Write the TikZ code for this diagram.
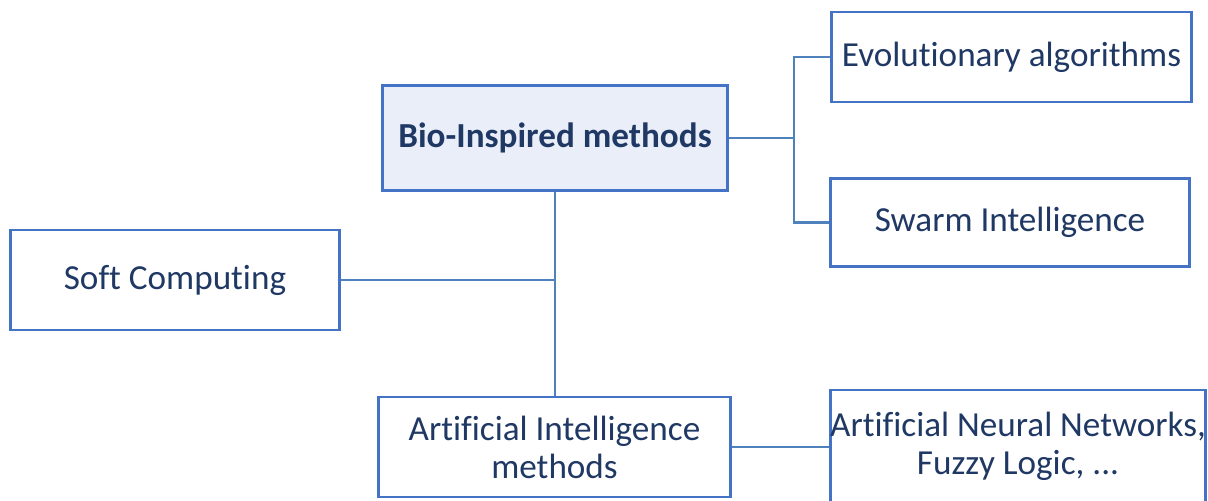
\documentclass[tikz,border=0pt]{standalone}
\usepackage{fontspec}
\setmainfont{Carlito}[Ligatures={NoCommon}]
\usepackage{tikz}

\definecolor{cajaBorde}{HTML}{4472C4}
\definecolor{lineaAzul}{HTML}{4F81BD}
\definecolor{textoAzul}{HTML}{1F3864}
\definecolor{rellenoAzul}{HTML}{E9EEF8}

\begin{document}
\begin{tikzpicture}[
    x=0.025cm, y=-0.025cm,
    % Estilo para las cajas
    caja/.style={
        rectangle,
        draw=cajaBorde,
        fill=white,
        line width=2.1pt,
        text=textoAzul,
        align=center,
        inner sep=0pt,
        font=\fontsize{25}{27}\selectfont
    },
    % Caja principal resaltada
    cajaPrincipal/.style={
        caja,
        fill=rellenoAzul,
        font=\fontsize{25}{27}\selectfont\bfseries
    },
    % Conectores
    conector/.style={
        draw=lineaAzul,
        line width=1.8pt
    }
]

    \clip (0,0) rectangle (1208,500);
    \fill[white] (0,0) rectangle (1208,500);

    % --- NODOS ---
    \node[cajaPrincipal, minimum width=8.6cm, minimum height=2.62cm] (bio) at (555,138) {Bio-Inspired methods};
    \node[caja, minimum width=9.02cm, minimum height=2.25cm] (evo) at (1011.5,57) {Evolutionary algorithms};
    \node[caja, minimum width=8.95cm, minimum height=2.22cm] (swarm) at (1010,222.5) {Swarm Intelligence};
    \node[caja, minimum width=8.2cm, minimum height=2.5cm] (soft) at (175,280) {Soft Computing};
    \node[caja, minimum width=8.78cm, minimum height=2.5cm] (ai) at (554.5,447) {Artificial Intelligence\\methods};
    \node[caja, minimum width=9.35cm, minimum height=2.8cm] (ann) at (1018,446) {Artificial Neural Networks,\\Fuzzy Logic, ...};

    % --- CONECTORES ---
    \coordinate (rama) at (794,138);
    \draw[conector] (bio.east) -- (rama);
    \draw[conector] (rama) |- (evo.west);
    \draw[conector] (rama) |- (swarm.west);
    \draw[conector] (bio.south) -- (bio.south |- ai.north);
    \draw[conector] (soft.east) -- (soft.east -| bio.south);
    \draw[conector] (ai.east) -- (ai.east -| ann.west);

\end{tikzpicture}
\end{document}
